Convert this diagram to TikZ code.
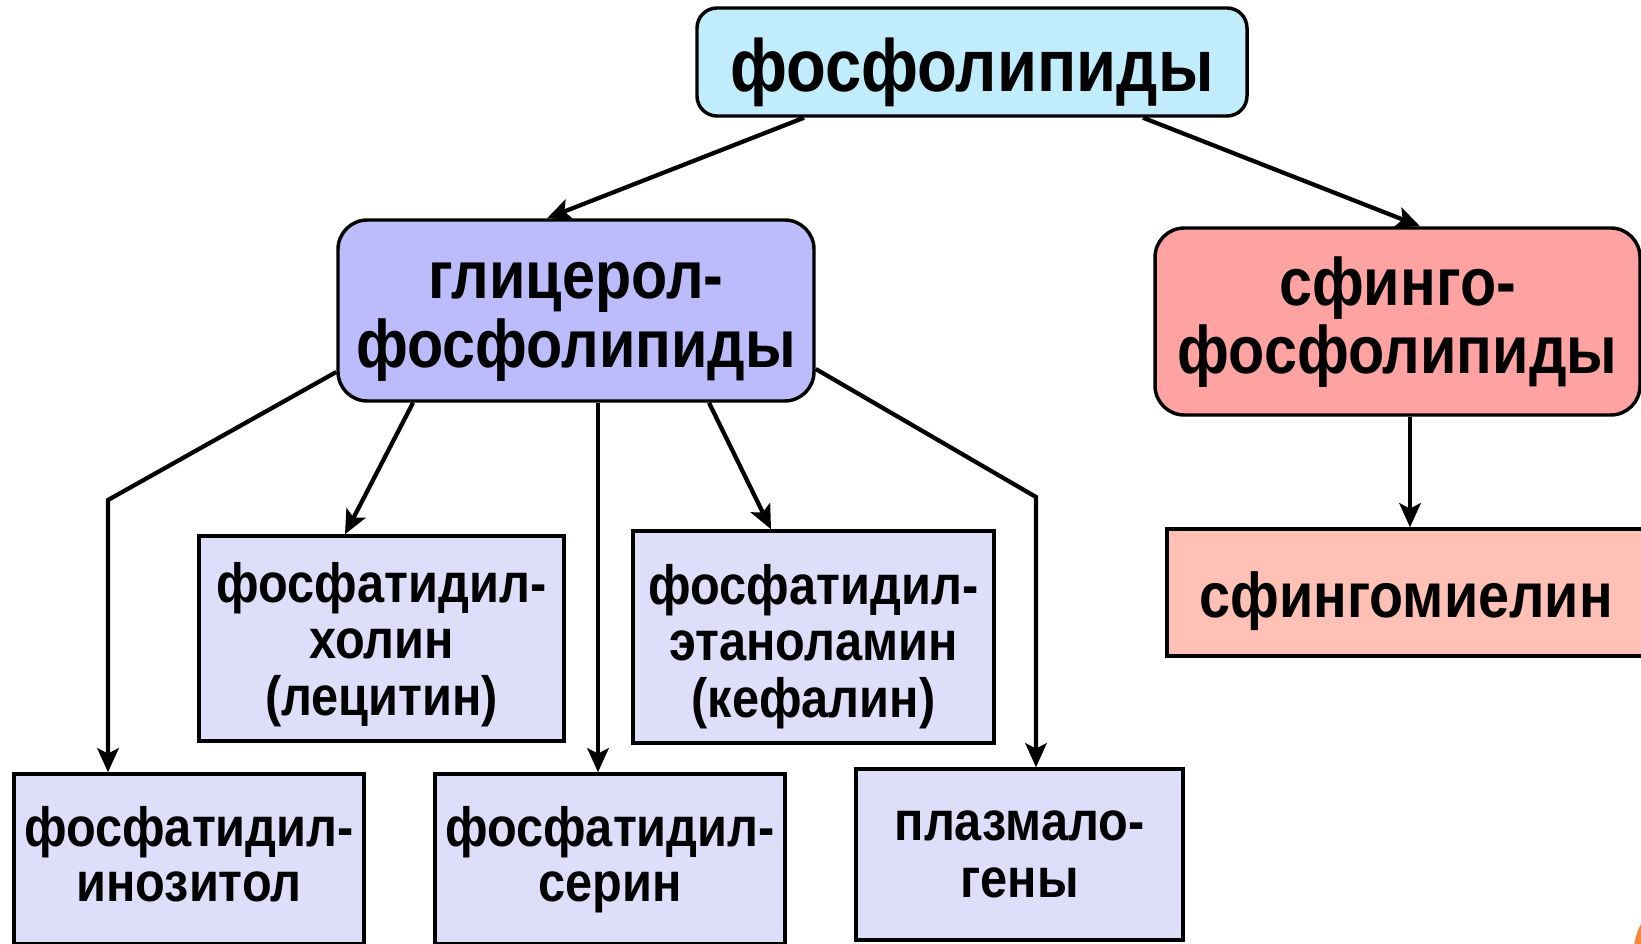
\documentclass[tikz,border=0pt]{standalone}
\usepackage{fontspec}
\setmainfont{Liberation Sans}[FakeStretch=0.88]
\usetikzlibrary{arrows.meta}
\definecolor{topfill}{RGB}{192,236,252}
\definecolor{glyfill}{RGB}{188,188,252}
\definecolor{sphfill}{RGB}{255,162,162}
\definecolor{spmfill}{RGB}{255,192,182}
\definecolor{leaffill}{RGB}{222,222,250}
\definecolor{cornerorange}{RGB}{247,136,58}
\newcommand\shtxt[2]{\raisebox{-#1}[0pt][0pt]{\begin{tabular}[b]{@{}c@{}}#2\end{tabular}}}
\begin{document}
\begin{tikzpicture}[x=0.75pt,y=-0.75pt,
  box/.style={draw=black,line width=2.6pt,inner sep=0pt,align=center,font=\bfseries},
  topbox/.style={box,fill=topfill,rounded corners=15pt,minimum width=412.5pt,minimum height=81pt,font=\bfseries\fontsize{55.5}{60}\selectfont},
  midbox/.style={box,rounded corners=22pt},
  leafbox/.style={box,fill=leaffill,font=\bfseries\fontsize{41.5}{41.6}\selectfont},
  conn/.style={line width=3.2pt,-{Stealth[length=18pt,width=16pt,inset=4pt]}}]
\useasboundingbox (0,0) rectangle (1641,944);
\clip (0,0) rectangle (1641,944);
\fill[white] (0,0) rectangle (1641,944);
\fill[cornerorange] (1700,955) circle[radius=50pt];

\node[topbox] (top) at (972,62) {\shtxt{22.5pt}{фосфолипиды}};
\node[midbox,fill=glyfill,minimum width=357pt,minimum height=135.75pt,font=\bfseries\fontsize{50.5}{51}\selectfont] (gly) at (576,310.5) {\shtxt{43pt}{глицерол-\\фосфолипиды}};
\node[midbox,fill=sphfill,minimum width=363.75pt,minimum height=140.25pt,font=\bfseries\fontsize{50.5}{47}\selectfont] (sph) at (1397.5,321.5) {\shtxt{39pt}{сфинго-\\фосфолипиды}};
\node[box,fill=spmfill,minimum width=358.5pt,minimum height=95.25pt,font=\bfseries\fontsize{47.5}{52}\selectfont] (spm) at (1406,592.5) {\shtxt{19pt}{сфингомиелин}};

\node[leafbox,minimum width=273.75pt,minimum height=153.75pt] (cho) at (381.5,638.5) {\shtxt{57.4pt}{фосфатидил-\\холин\\(лецитин)}};
\node[leafbox,minimum width=270.75pt,minimum height=159pt] (eth) at (813.5,637) {\shtxt{60pt}{фосфатидил-\\этаноламин\\(кефалин)}};
\node[leafbox,minimum width=262.5pt,minimum height=127.5pt] (ino) at (189,859) {\shtxt{32pt}{фосфатидил-\\инозитол}};
\node[leafbox,minimum width=262.5pt,minimum height=127.5pt] (ser) at (610,859) {\shtxt{32pt}{фосфатидил-\\серин}};
\node[leafbox,minimum width=245.25pt,minimum height=128.25pt,font=\bfseries\fontsize{41.5}{42.4}\selectfont] (pla) at (1019.5,854.5) {\shtxt{32pt}{плазмало-\\гены}};

\coordinate (bendL) at (108,500);
\coordinate (bendR) at (1036,497);

\draw[conn] (top.south -| 804,0) -- (gly.north -| 547,0);
\draw[conn] (top.south -| 1143,0) -- (sph.north -| 1420,0);
\draw[conn] (gly.west |- 0,372) -- (bendL) -- (ino.north -| bendL);
\draw[conn] (gly.south -| 413,0) -- (cho.north -| 345,0);
\draw[conn] (gly.south -| 598,0) -- (ser.north -| 598,0);
\draw[conn] (gly.south -| 709,0) -- (eth.north -| 771,0);
\draw[conn] (gly.east |- 0,369) -- (bendR) -- (pla.north -| bendR);
\draw[conn] (sph.south -| 1410,0) -- (spm.north -| 1410,0);
\end{tikzpicture}
\end{document}
